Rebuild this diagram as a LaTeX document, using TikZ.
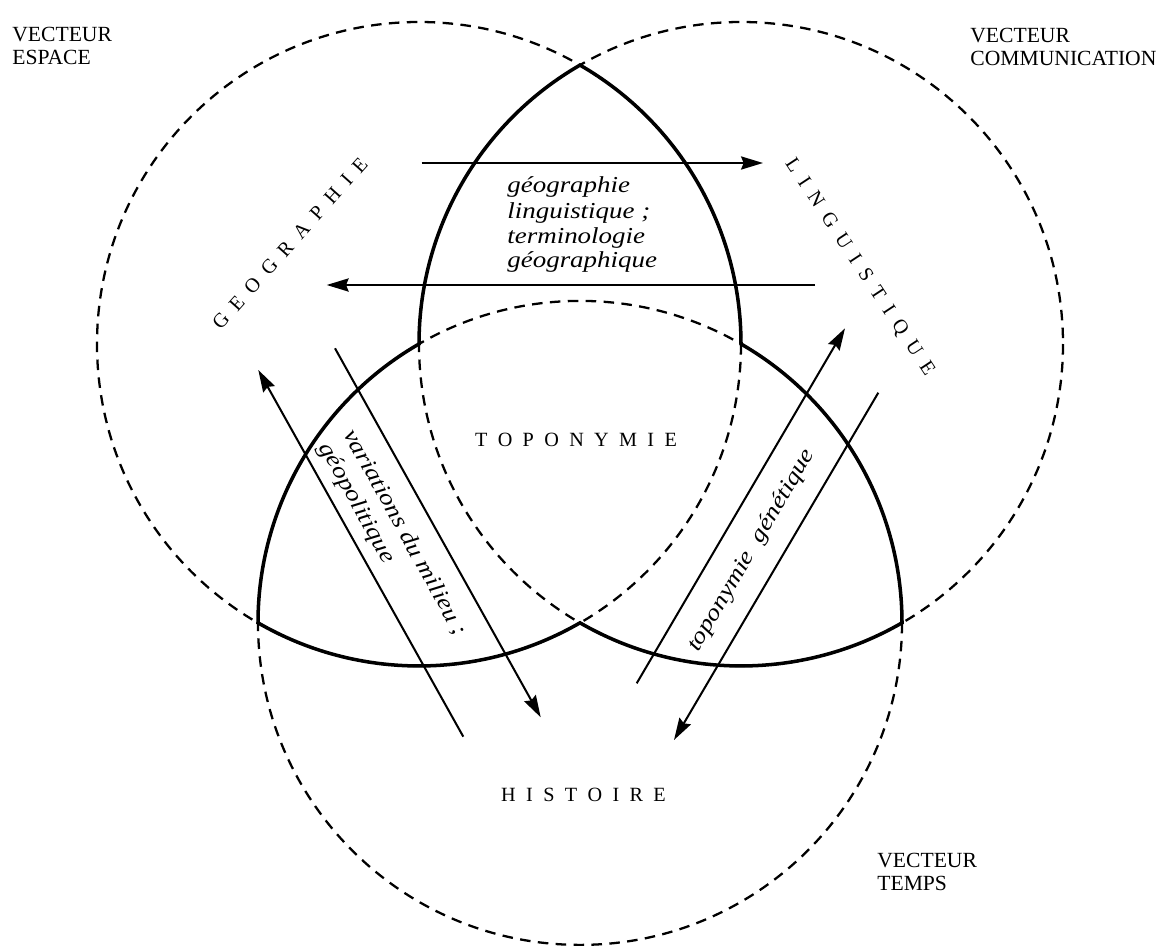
\documentclass[tikz,border=0pt]{standalone}
\usepackage{fontspec}
\setmainfont{Liberation Serif}
\newfontfamily\wideit[FakeStretch=1.18]{Liberation Serif}
\usetikzlibrary{arrows.meta}
\newcommand\lgap{\hspace{5.9pt}}
\tikzset{
  dcirc/.style={draw, line width=1.3pt, dash pattern=on 6pt off 4.2pt},
  bold/.style={draw, line width=2pt, line join=miter},
  arr/.style={draw, line width=1.15pt, -{Stealth[length=12.5pt,width=7.5pt,inset=1.5pt]}},
  lab/.style={font=\fontsize{12.3}{13}\selectfont, align=left, inner sep=0pt, anchor=north west},
  capw/.style={font=\fontsize{11.5}{13}\selectfont, inner sep=0pt},
  itl/.style={font=\wideit\itshape\fontsize{13}{14}\selectfont, inner sep=0pt, anchor=base west}
}
\begin{document}
\begin{tikzpicture}[x=0.02cm, y=-0.02cm]
\useasboundingbox (0,0) rectangle (1163,946);
\fill[white] (0,0) rectangle (1163,946);
% circle centres
\coordinate (L) at (419,344);
\coordinate (R) at (741,344);
\coordinate (B) at (580,622.9);
\coordinate (T) at (580,65.1);
% dashed circles
\draw[dcirc] (L) circle[radius=322];
\draw[dcirc] (R) circle[radius=322];
\draw[dcirc] (B) circle[radius=322];
% bold outline
\draw[bold] (T) arc[start angle=240, end angle=180, radius=322]
  arc[start angle=240, end angle=180, radius=322]
  arc[start angle=120, end angle=60, radius=322]
  arc[start angle=120, end angle=60, radius=322]
  arc[start angle=0, end angle=-60, radius=322]
  arc[start angle=0, end angle=-60, radius=322] -- cycle;
% arrow end points
\coordinate (h1s) at (421.7,163);
\coordinate (h1e) at (763,163);
\coordinate (h2s) at (815,285);
\coordinate (h2e) at (326.7,285);
\coordinate (as) at (463.3,736.7);
\coordinate (ae) at (258.3,370);
\coordinate (bs) at (335,348.3);
\coordinate (be) at (540.7,717.3);
\coordinate (cs) at (636.7,683.3);
\coordinate (ce) at (845,328.3);
\coordinate (ds) at (878.3,392.7);
\coordinate (de) at (674,740);
\draw[arr] (h1s) -- (h1e);
\draw[arr] (h2s) -- (h2e);
\draw[arr] (as) -- (ae);
\draw[arr] (bs) -- (be);
\draw[arr] (cs) -- (ce);
\draw[arr] (ds) -- (de);
% corner labels
\node[lab] (ve) at (12,27) {VECTEUR\\ESPACE};
\node[lab] (vc) at (970,28) {VECTEUR\\COMMUNICATION};
\node[lab] (vt) at (877,853) {VECTEUR\\TEMPS};
% spaced capitals
\node[capw, rotate=48.3] (geo) at (290,243.5) {G\lgap E\lgap O\lgap G\lgap R\lgap A\lgap P\lgap H\lgap I\lgap E};
\node[capw, rotate=-56.6] (lin) at (859.5,267.5) {L\lgap I\lgap N\lgap G\lgap U\lgap I\lgap S\lgap T\lgap I\lgap Q\lgap U\lgap E};
\node[capw] (topo) at (576,439.5) {T\lgap O\lgap P\lgap O\lgap N\lgap Y\lgap M\lgap I\lgap E};
\node[capw] (hist) at (583.5,795) {H\lgap I\lgap S\lgap T\lgap O\lgap I\lgap R\lgap E};
% italic texts
\node[itl] (g1) at (507,193) {géographie};
\node[itl] (g2) at (507,218) {linguistique ;};
\node[itl] (g3) at (507,243) {terminologie};
\node[itl] (g4) at (507,267) {géographique};
\node[itl, rotate=-61] (v1) at (343,433.7) {variations du milieu ;};
\node[itl, rotate=-61] (v2) at (318.6,446.8) {géopolitique};
\node[itl, rotate=59.6] (tg) at (697.9,653.1) {toponymie\ \ génétique};
\end{tikzpicture}
\end{document}
